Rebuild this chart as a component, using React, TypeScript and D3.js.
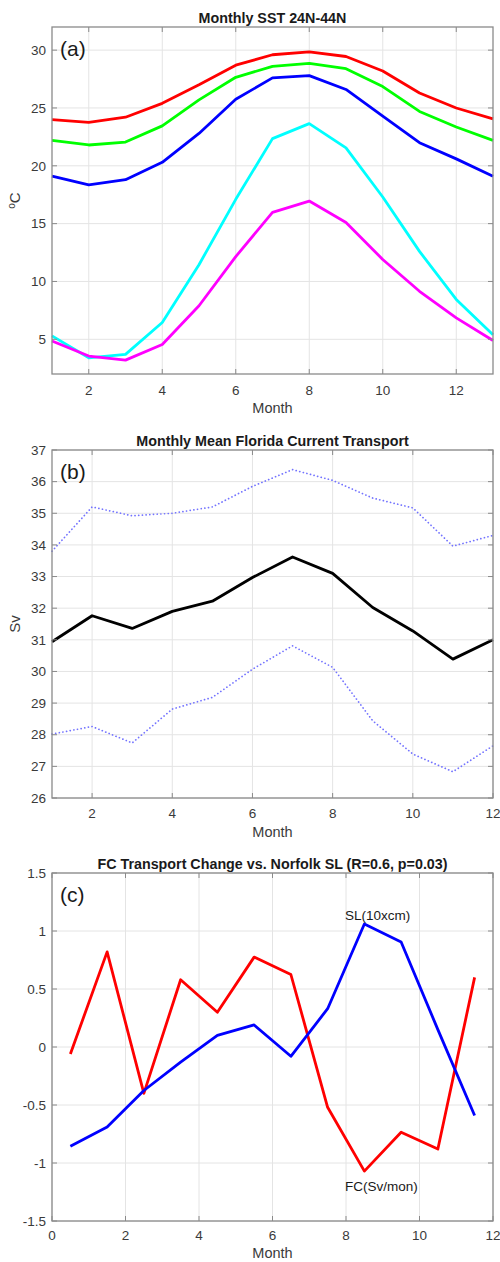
import React from "react";
import * as d3 from "d3";

// Panel (a): Monthly SST 24N-44N, months 1..13
const monthsA = [1, 2, 3, 4, 5, 6, 7, 8, 9, 10, 11, 12, 13];
const sstRed = [24.0, 23.75, 24.2, 25.4, 27.0, 28.7, 29.6, 29.85, 29.45, 28.2, 26.3, 25.0, 24.05];
const sstGreen = [22.2, 21.8, 22.05, 23.45, 25.7, 27.65, 28.6, 28.85, 28.4, 26.85, 24.7, 23.35, 22.2];
const sstBlue = [19.1, 18.35, 18.8, 20.3, 22.8, 25.75, 27.6, 27.8, 26.6, 24.3, 22.0, 20.6, 19.1];
const sstCyan = [5.3, 3.4, 3.7, 6.45, 11.45, 17.1, 22.35, 23.65, 21.55, 17.3, 12.6, 8.45, 5.4];
const sstMagenta = [4.85, 3.55, 3.2, 4.55, 7.9, 12.15, 15.98, 16.95, 15.1, 11.9, 9.15, 6.85, 4.9];

// Panel (b): Monthly Mean Florida Current Transport, months 1..12
const monthsB = [1, 2, 3, 4, 5, 6, 7, 8, 9, 10, 11, 12];
const fcMean = [30.94, 31.76, 31.36, 31.9, 32.22, 32.97, 33.62, 33.1, 32.02, 31.28, 30.39, 31.0];
const fcUpper = [33.8, 35.2, 34.92, 35.0, 35.2, 35.85, 36.38, 36.04, 35.48, 35.17, 33.96, 34.3];
const fcLower = [28.02, 28.26, 27.74, 28.81, 29.18, 30.07, 30.81, 30.13, 28.44, 27.39, 26.83, 27.65];

// Panel (c): FC transport change vs Norfolk SL, at half months
const monthsC = [0.5, 1.5, 2.5, 3.5, 4.5, 5.5, 6.5, 7.5, 8.5, 9.5, 10.5, 11.5];
const fcChange = [-0.06, 0.82, -0.4, 0.58, 0.3, 0.775, 0.625, -0.52, -1.07, -0.735, -0.88, 0.6];
const slChange = [-0.855, -0.69, -0.375, -0.13, 0.1, 0.19, -0.08, 0.33, 1.06, 0.905, 0.15, -0.59];

const ticksA_y = [5, 10, 15, 20, 25, 30];
const ticksA_x = [2, 4, 6, 8, 10, 12];
const ticksB_y = [26, 27, 28, 29, 30, 31, 32, 33, 34, 35, 36, 37];
const ticksB_x = [2, 4, 6, 8, 10, 12];
const ticksC_y = [-1.5, -1, -0.5, 0, 0.5, 1, 1.5];
const ticksC_x = [0, 2, 4, 6, 8, 10, 12];

const FONT = "'Liberation Sans', Arial, sans-serif";
const AXIS = "#8a8a8a";
const TXT = "#3a3a3a";

type Series = { x: number[]; y: number[]; color: string; width: number; dash?: string };

function Panel(props: {
  left: number; right: number; top: number; bottom: number;
  xDomain: [number, number]; yDomain: [number, number];
  xTicks: number[]; yTicks: number[];
  title: string; tag: string; ylabel: React.ReactNode;
  tickDy: number; labelDy: number;
  series: Series[]; extra?: React.ReactNode;
}) {
  const { left, right, top, bottom, xDomain, yDomain, xTicks, yTicks, title, tag, ylabel, series } = props;
  const x = d3.scaleLinear().domain(xDomain).range([left, right]);
  const y = d3.scaleLinear().domain(yDomain).range([bottom, top]);
  const tl = 5;
  return (
    <g>
      {xTicks.map((t) => (
        <line key={"gx" + t} x1={x(t)} x2={x(t)} y1={top} y2={bottom} stroke="#e4e4e4" strokeWidth={1} />
      ))}
      {yTicks.map((t) => (
        <line key={"gy" + t} x1={left} x2={right} y1={y(t)} y2={y(t)} stroke="#e4e4e4" strokeWidth={1} />
      ))}
      {series.map((s, i) => {
        const pts: [number, number][] = s.x.map((v, k) => [v, s.y[k]]);
        const line = d3.line<[number, number]>().x((d) => x(d[0])).y((d) => y(d[1]));
        return (
          <path key={i} d={line(pts) || ""} fill="none" stroke={s.color} strokeWidth={s.width}
            strokeDasharray={s.dash} strokeLinejoin="round" strokeLinecap={s.dash ? "round" : "butt"} />
        );
      })}
      <rect x={left} y={top} width={right - left} height={bottom - top} fill="none" stroke={AXIS} strokeWidth={1.3} />
      {xTicks.map((t) => (
        <g key={"tx" + t}>
          <line x1={x(t)} x2={x(t)} y1={bottom} y2={bottom - tl} stroke={AXIS} />
          <line x1={x(t)} x2={x(t)} y1={top} y2={top + tl} stroke={AXIS} />
          <text x={x(t)} y={bottom + props.tickDy} textAnchor="middle" fontFamily={FONT} fontSize={13.5} fill={TXT}>{t}</text>
        </g>
      ))}
      {yTicks.map((t) => (
        <g key={"ty" + t}>
          <line x1={left} x2={left + tl} y1={y(t)} y2={y(t)} stroke={AXIS} />
          <line x1={right} x2={right - tl} y1={y(t)} y2={y(t)} stroke={AXIS} />
          <text x={left - 6} y={y(t) + 4.7} textAnchor="end" fontFamily={FONT} fontSize={13.5} fill={TXT}>{t}</text>
        </g>
      ))}
      <text x={(left + right) / 2} y={top - 4.5} textAnchor="middle" fontFamily={FONT} fontSize={14.3} fontWeight="bold" fill="#1a1a1a">{title}</text>
      <text x={left + 8} y={top + 29} fontFamily={FONT} fontSize={21} fill="#1a1a1a">{tag}</text>
      <text x={(left + right) / 2} y={bottom + props.labelDy} textAnchor="middle" fontFamily={FONT} fontSize={14.5} fill={TXT}>Month</text>
      <text transform={`translate(${left - 32},${(top + bottom) / 2}) rotate(-90)`} textAnchor="middle" fontFamily={FONT} fontSize={15} fill={TXT}>{ylabel}</text>
      {props.extra}
    </g>
  );
}

export default function App() {
  const xC = d3.scaleLinear().domain([0, 12]).range([52, 493]);
  const yC = d3.scaleLinear().domain([-1.5, 1.5]).range([1221, 873]);
  return (
    <svg width={500} height={1262} style={{ position: "absolute", left: 0, top: 0, background: "#fff" }}>
      <Panel left={52} right={493} top={27} bottom={374} xDomain={[1, 13]} yDomain={[2, 32]}
        xTicks={ticksA_x} yTicks={ticksA_y} title="Monthly SST 24N-44N" tag="(a)"
        tickDy={21} labelDy={39}
        ylabel={<><tspan fontSize={10} dy={-5}>o</tspan><tspan dy={5}>C</tspan></>}
        series={[
          { x: monthsA, y: sstRed, color: "#ff0000", width: 2.8 },
          { x: monthsA, y: sstGreen, color: "#00ff00", width: 2.8 },
          { x: monthsA, y: sstBlue, color: "#0000ff", width: 2.8 },
          { x: monthsA, y: sstCyan, color: "#00ffff", width: 2.8 },
          { x: monthsA, y: sstMagenta, color: "#ff00ff", width: 2.8 },
        ]} />
      <Panel left={52} right={493} top={450} bottom={798} xDomain={[1, 12]} yDomain={[26, 37]}
        xTicks={ticksB_x} yTicks={ticksB_y} title="Monthly Mean Florida Current Transport" tag="(b)"
        tickDy={20} labelDy={39}
        ylabel="Sv"
        series={[
          { x: monthsB, y: fcUpper, color: "#7373ff", width: 1.7, dash: "0.1,3.6" },
          { x: monthsB, y: fcLower, color: "#7373ff", width: 1.7, dash: "0.1,3.6" },
          { x: monthsB, y: fcMean, color: "#000000", width: 2.8 },
        ]} />
      <Panel left={52} right={493} top={873} bottom={1221} xDomain={[0, 12]} yDomain={[-1.5, 1.5]}
        xTicks={ticksC_x} yTicks={ticksC_y} title="FC Transport Change vs. Norfolk SL (R=0.6, p=0.03)" tag="(c)"
        tickDy={19} labelDy={37}
        ylabel=""
        series={[
          { x: monthsC, y: fcChange, color: "#ff0000", width: 2.8 },
          { x: monthsC, y: slChange, color: "#0000ff", width: 2.8 },
        ]}
        extra={
          <g fontFamily={FONT} fontSize={13.5} fill="#1a1a1a">
            <text x={xC(8.86)} y={yC(1.095)} textAnchor="middle">SL(10xcm)</text>
            <text x={xC(8.96)} y={yC(-1.24)} textAnchor="middle">FC(Sv/mon)</text>
          </g>
        } />
    </svg>
  );
}
